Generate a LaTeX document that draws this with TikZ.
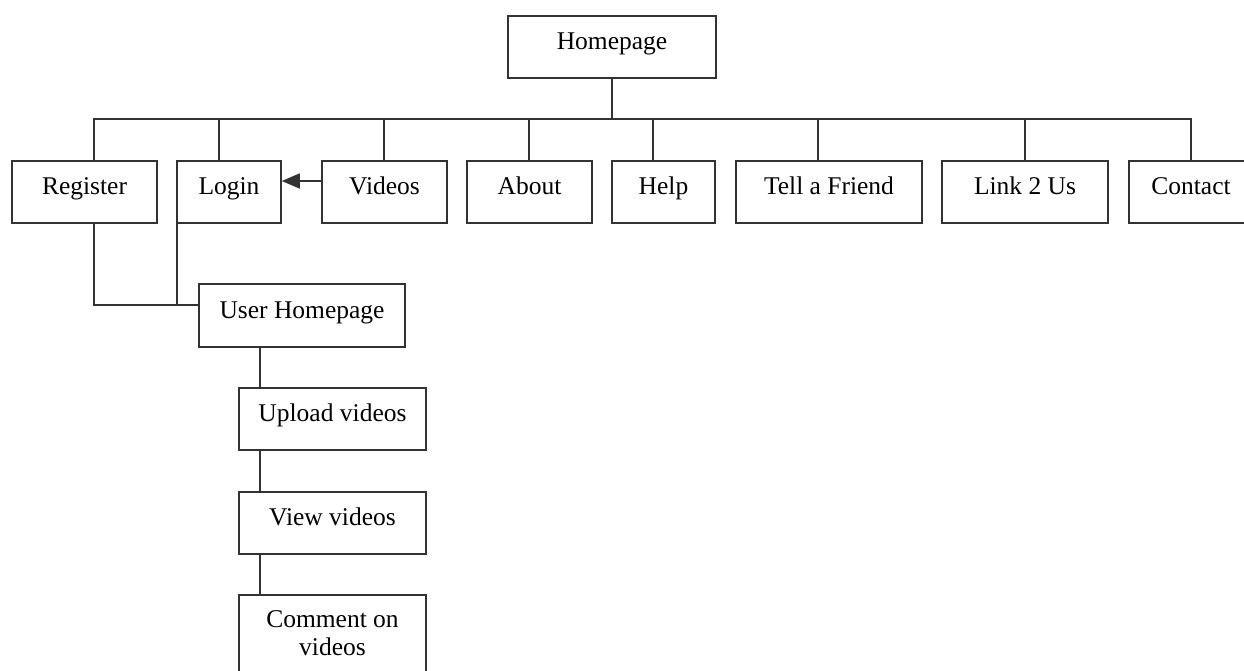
\documentclass[tikz,border=0pt]{standalone}
\usepackage{fontspec}
\setmainfont{Liberation Serif}
\usetikzlibrary{arrows.meta}
\begin{document}
\begin{tikzpicture}[x=1pt,y=-1pt,
  basebox/.style={draw=black!80, line width=1.5pt, fill=white, minimum height=62pt, inner sep=0pt, font=\fontsize{25.5}{28}\selectfont},
  box/.style={basebox, text height=18pt, text depth=13pt},
  conn/.style={draw=black!80, line width=1.5pt},
]
\useasboundingbox (0,0) rectangle (1244,671);
\clip (0,0) rectangle (1244,671);
\node[box, minimum width=208pt] (home) at (612,47) {Homepage};
\node[box, minimum width=145pt] (reg) at (84.5,192) {Register};
\node[box, minimum width=104pt] (login) at (229,192) {Login};
\node[box, minimum width=125pt] (videos) at (384.5,192) {Videos};
\node[box, minimum width=125pt] (about) at (529.5,192) {About};
\node[box, minimum width=103pt] (help) at (663.5,192) {Help};
\node[box, minimum width=186pt] (tell) at (829,192) {Tell a Friend};
\node[box, minimum width=166pt] (link) at (1025,192) {Link 2 Us};
\node[box, minimum width=124pt] (contact) at (1191,192) {Contact};
\node[box, minimum width=206pt, minimum height=63pt] (uh) at (302,315.5) {User Homepage};
\node[box, minimum width=187pt] (up) at (332.5,419) {Upload videos};
\node[box, minimum width=187pt] (view) at (332.5,523) {View videos};
\node[basebox, minimum width=187pt, minimum height=92pt, align=center, text depth=16pt] (comm) at (332.5,641) {Comment on\\videos};

\coordinate (bus) at (612,119);
\draw[conn] (home.south) -- (bus);
\draw[conn] (bus) -| ([xshift=9.5pt]reg.north);
\draw[conn] (bus) -| ([xshift=-10pt]login.north);
\draw[conn] (bus) -| ([xshift=-0.5pt]videos.north);
\draw[conn] (bus) -| ([xshift=-0.5pt]about.north);
\draw[conn] (bus) -| ([xshift=-10.5pt]help.north);
\draw[conn] (bus) -| ([xshift=-11pt]tell.north);
\draw[conn] (bus) -| (link.north);
\draw[conn] (bus) -| (contact.north);

\draw[conn, -{Triangle[length=18pt,width=15pt]}] ([yshift=11pt]videos.west) -- ([yshift=11pt]login.east);

\coordinate (uhin) at ([yshift=10.5pt]uh.west);
\coordinate (lgdown) at ([xshift=0.75pt]login.south west);
\draw[conn] ([xshift=9.5pt]reg.south) |- (uhin);
\draw[conn] (lgdown) -- (lgdown |- uhin);
\coordinate (upt) at ([xshift=21.75pt]up.north west);
\draw[conn] (uh.south -| upt) -- (upt);
\draw[conn] ([xshift=21.75pt]up.south west) -- ([xshift=21.75pt]view.north west);
\draw[conn] ([xshift=21.75pt]view.south west) -- ([xshift=21.75pt]comm.north west);
\end{tikzpicture}
\end{document}
